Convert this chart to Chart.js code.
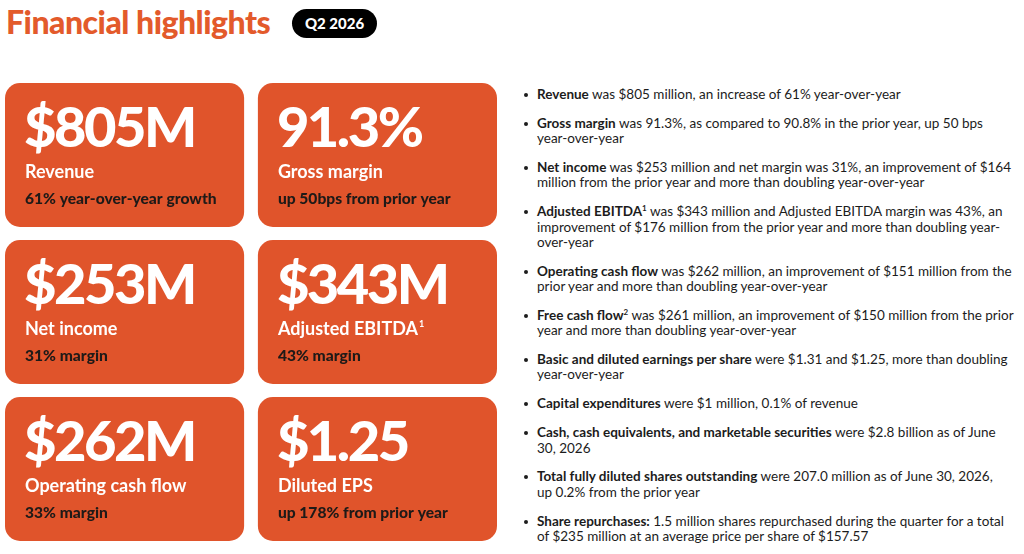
<!DOCTYPE html>
<html>
<head>
<meta charset="utf-8">
<script src="https://cdn.jsdelivr.net/npm/chart.js@4.4.1/dist/chart.umd.min.js"></script>
<style>
  html, body { margin: 0; padding: 0; background: #fff; }
  body { width: 1024px; height: 554px; position: relative; overflow: hidden; font-family: Lato, "Noto Sans", sans-serif; }
  #title { position: absolute; left: 6px; top: 2px; font-size: 32px; font-weight: 900; color: #e35a2b; letter-spacing: -0.5px; white-space: nowrap; }
  #badge { position: absolute; left: 292px; top: 9px; width: 85px; height: 29px; border-radius: 15px; background: #000; color: #fff; font-size: 15px; font-weight: 900; line-height: 29px; text-align: center; }
  #cards { position: absolute; left: 0; top: 0; width: 505px; height: 554px; }
  #bullets { position: absolute; left: 522px; top: 87px; margin: 0; padding: 0; list-style: none; color: #1c1c1c; font-size: 13.5px; line-height: 15.3px; }
  #bullets li { position: relative; padding-left: 15px; margin-bottom: 13.6px; white-space: nowrap; }
  #bullets li::before { content: ""; position: absolute; left: 2px; top: 6px; width: 4px; height: 4px; border-radius: 50%; background: #1c1c1c; }
  #bullets sup { font-size: 8px; line-height: 0; vertical-align: 5px; }
</style>
</head>
<body>
<div id="title">Financial highlights</div>
<div id="badge">Q2 2026</div>
<div id="cards"><canvas id="highlights"></canvas></div>
<ul id="bullets"></ul>
<script>
// card data, left column then right column, top to bottom
const cardValues = ['$805M', '$253M', '$262M', '91.3%', '$343M', '$1.25'];
const cardLabels = ['Revenue', 'Net income', 'Operating cash flow', 'Gross margin', 'Adjusted EBITDA', 'Diluted EPS'];
const cardMarks = ['', '', '', '', '1', ''];
const cardNotes = ['61% year-over-year growth', '31% margin', '33% margin', 'up 50bps from prior year', '43% margin', 'up 178% from prior year'];
const rows = ['row1', 'row2', 'row3'];

// bullet list, lines broken as in the original
const bulletHeads = ['Revenue', 'Gross margin', 'Net income', 'Adjusted EBITDA<sup>1</sup>', 'Operating cash flow', 'Free cash flow<sup>2</sup>',
  'Basic and diluted earnings per share', 'Capital expenditures', 'Cash, cash equivalents, and marketable securities',
  'Total fully diluted shares outstanding', 'Share repurchases:'];
const bulletTexts = [
  ' was $805 million, an increase of 61% year-over-year',
  ' was 91.3%, as compared to 90.8% in the prior year, up 50 bps<br>year-over-year',
  ' was $253 million and net margin was 31%, an improvement of $164<br>million from the prior year and more than doubling year-over-year',
  ' was $343 million and Adjusted EBITDA margin was 43%, an<br>improvement of $176 million from the prior year and more than doubling year-<br>over-year',
  ' was $262 million, an improvement of $151 million from the<br>prior year and more than doubling year-over-year',
  ' was $261 million, an improvement of $150 million from the prior<br>year and more than doubling year-over-year',
  ' were $1.31 and $1.25, more than doubling<br>year-over-year',
  ' were $1 million, 0.1% of revenue',
  ' were $2.8 billion as of June<br>30, 2026',
  ' were 207.0 million as of June 30, 2026,<br>up 0.2% from the prior year',
  ' 1.5 million shares repurchased during the quarter for a total<br>of $235 million at an average price per share of $157.57'
];

const list = document.getElementById('bullets');
bulletHeads.forEach((head, i) => {
  const li = document.createElement('li');
  li.innerHTML = '<b>' + head + '</b>' + bulletTexts[i];
  list.appendChild(li);
});

const cardColor = '#e0542b';
const gap = 0.028;

const cardText = {
  id: 'cardText',
  afterDatasetsDraw(chart) {
    const ctx = chart.ctx;
    ctx.save();
    ctx.textBaseline = 'alphabetic';
    ctx.textAlign = 'left';
    chart.data.datasets.forEach((ds, d) => {
      chart.getDatasetMeta(d).data.forEach((bar, r) => {
        const p = bar.getProps(['x', 'y', 'base', 'height'], true);
        const left = Math.min(p.x, p.base) + 20;
        const top = p.y - p.height / 2;
        const k = d * rows.length + r;
        ctx.fillStyle = '#fff';
        ctx.letterSpacing = '-2.5px';
        ctx.font = '900 56px Lato';
        ctx.fillText(cardValues[k], left - 1, top + 64);
        ctx.letterSpacing = '0px';
        ctx.font = '700 18px Lato';
        ctx.fillText(cardLabels[k], left, top + 95);
        if (cardMarks[k]) {
          const w = ctx.measureText(cardLabels[k]).width;
          ctx.font = '700 9px Lato';
          ctx.fillText(cardMarks[k], left + w + 1, top + 87);
        }
        ctx.fillStyle = '#1e1a18';
        ctx.font = '900 15.6px Lato';
        ctx.fillText(cardNotes[k], left, top + 121);
      });
    });
    ctx.restore();
  }
};

new Chart(document.getElementById('highlights'), {
  type: 'bar',
  data: {
    labels: rows,
    datasets: [
      { label: 'left', data: rows.map(() => [0, 1 - gap]), backgroundColor: cardColor },
      { label: 'right', data: rows.map(() => [1 + gap, 2]), backgroundColor: cardColor }
    ]
  },
  options: {
    indexAxis: 'y',
    responsive: true,
    maintainAspectRatio: false,
    animation: false,
    events: [],
    layout: { padding: { left: 5, right: 8, top: 76.5, bottom: 6.5 } },
    datasets: { bar: { grouped: false, categoryPercentage: 1, barPercentage: 0.917, borderRadius: 15, borderSkipped: false } },
    scales: {
      x: { display: false, min: 0, max: 2 },
      y: { display: false }
    },
    plugins: { legend: { display: false }, tooltip: { enabled: false } }
  },
  plugins: [cardText]
});
</script>
</body>
</html>
